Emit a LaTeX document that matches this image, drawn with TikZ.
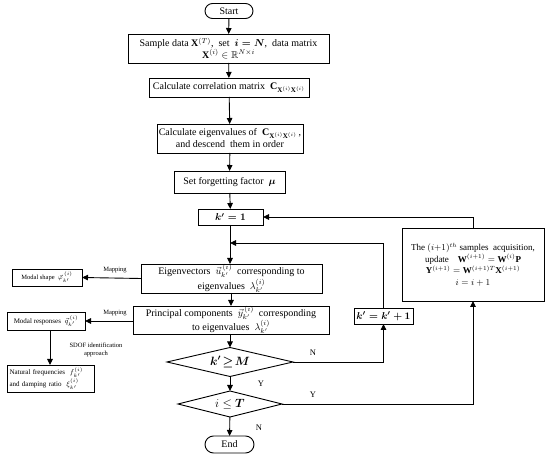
\documentclass[tikz,border=0pt]{standalone}
\usepackage{amsmath,amssymb}
\usepackage{fontspec}
\setmainfont{Liberation Serif}
\usetikzlibrary{arrows.meta,shapes.geometric,calc}
\begin{document}
\begin{tikzpicture}[x=1pt,y=-1pt,
  every node/.style={inner sep=0pt,outer sep=0pt},
  box/.style={draw,line width=0.9pt,align=center,font=\fontsize{10}{12}\selectfont},
  sbox/.style={draw,line width=0.8pt,align=left,font=\fontsize{7}{9}\selectfont},
  term/.style={draw,line width=0.9pt,rounded corners=7.5pt,font=\fontsize{10}{11}\selectfont},
  cond/.style={draw,diamond,aspect=4.3,line width=0.9pt,font=\fontsize{12}{13}\selectfont},
  lab/.style={font=\fontsize{8.5}{10}\selectfont},
  mlab/.style={font=\fontsize{6.5}{8}\selectfont},
  arr/.style={line width=0.9pt,-{Triangle[length=6pt,width=5.5pt]}},
  ln/.style={line width=0.9pt}]
\useasboundingbox (0,0) rectangle (550,457);

\node[term,minimum width=48pt,minimum height=15pt] (start) at (229,11) {Start};
\node[box,minimum width=201pt,minimum height=29pt,font=\fontsize{10}{11.5}\selectfont] (sample) at (228.5,48.5)
  {Sample data $\mathbf{X}^{(T)}$,\ \ set \ $\boldsymbol{i=N}$,\ \ data matrix\\ $\mathbf{X}^{(i)}\in\mathbb{R}^{N\times i}$};
\node[box,minimum width=160pt,minimum height=19pt] (corr) at (229,87.5)
  {Calculate correlation matrix\ \ $\mathbf{C}_{\mathbf{X}^{(i)}\mathbf{X}^{(i)}}$};
\node[box,minimum width=146pt,minimum height=29pt] (eig) at (230,138.5)
  {Calculate eigenvalues of\ \ $\mathbf{C}_{\mathbf{X}^{(i)}\mathbf{X}^{(i)}}$\,,\\ and descend\ \ them in order};
\node[box,minimum width=111pt,minimum height=22pt] (forget) at (229.5,182)
  {Set forgetting factor\ \ $\boldsymbol{\mu}$};
\node[box,minimum width=65pt,minimum height=16pt] (k1) at (230.5,217)
  {$\boldsymbol{k'=1}$};
\node[box,minimum width=181pt,minimum height=29pt] (evec) at (231.5,278.5)
  {Eigenvectors\ \ ${\vec{u}}^{\,(i)}_{k'}$\ \ corresponding to\\ eigenvalues\ \ $\lambda^{(i)}_{k'}$};
\node[box,minimum width=196pt,minimum height=28pt] (pc) at (231,320)
  {Principal components\ \ ${\vec{y}}^{\,(i)}_{k'}$\ \ corresponding\\ to eigenvalues\ \ $\lambda^{(i)}_{k'}$};
\node[cond,minimum width=126pt,minimum height=29pt] (kc) at (230,362)
  {$\boldsymbol{k'\!\geq\! M}$};
\node[cond,minimum width=104pt,minimum height=26pt] (ic) at (230,404)
  {$i\leq\boldsymbol{T}$};
\node[term,minimum width=49pt,minimum height=17pt,rounded corners=8.5pt] (end) at (229.5,444.5) {End};

\node[sbox,minimum width=70pt,minimum height=17pt,align=center,font=\fontsize{6.5}{8}\selectfont] (ms) at (47,277.5)
  {Modal shape\ \ ${\vec{\varphi}}^{\,(i)}_{k'}$};
\node[sbox,minimum width=78pt,minimum height=18pt,align=center] (mr) at (46,321)
  {Modal responses\ \ ${\vec{q}}^{\,(i)}_{k'}$};
\node[sbox,minimum width=87pt,minimum height=27pt,text width=82pt] (nf) at (50.5,378.5)
  {Natural frequencies\ \ $f^{(i)}_{k'}$\\ and damping ratio\ \ $\xi^{(i)}_{k'}$};

\node[box,minimum width=59pt,minimum height=16pt] (kinc) at (383.5,316)
  {$\boldsymbol{k'=k'+1}$};
\node[box,minimum width=142pt,minimum height=73pt,font=\fontsize{9}{11.5}\selectfont] (upd) at (473,264.5)
  {The $(i{+}1)^{th}$ samples\ \ acquisition,\\
   update\quad $\mathbf{W}^{(i+1)}=\mathbf{W}^{(i)}\mathbf{P}$\\
   $\mathbf{Y}^{(i+1)}=\mathbf{W}^{(i+1)T}\mathbf{X}^{(i+1)}$\\
   $i=i+1$};

% main flow
\draw[arr] (start) -- (sample);
\draw[arr] (sample) -- (corr);
\draw[arr] (corr) -- (eig);
\draw[arr] (eig) -- (forget);
\draw[arr] (forget) -- (k1);
\draw[arr] (k1.south -| 230,0) -- (evec.north -| 230,0);
\draw[arr] (evec.south -| 231,0) -- (pc.north -| 231,0);
\draw[arr] (pc.south -| 230,0) -- (kc.north);
\draw[arr] (kc) -- (ic);
\draw[arr] (ic) -- (end);
\node[lab] (ly) at (261,384) {Y};
\node[lab] (ln1) at (259,428) {N};

% k condition N branch
\draw[arr] (kc.east) -| (kinc.south);
\node[lab] (ln2) at (313,353) {N};
\coordinate (j1) at (230,243);
\draw[arr] (kinc.north) |- (j1);

% i condition Y branch
\draw[arr] (ic.east) -| (upd.south);
\node[lab] (ly2) at (313,395) {Y};
\coordinate (j2) at (473,217);
\draw[ln] (upd.north) -- (j2);
\draw[arr] (j2) -- (k1.east);

% side branches
\draw[arr] (evec.west) -- (ms.east);
\node[mlab] (map1) at (115,270) {Mapping};
\draw[arr] (pc.west |- mr.east) -- (mr.east);
\node[mlab] (map2) at (115,313) {Mapping};
\draw[arr] (mr.south -| 50,0) -- (nf.north -| 50,0);
\node[mlab,align=center] (sdof) at (96,350) {SDOF identification\\ approach};
\end{tikzpicture}
\end{document}
